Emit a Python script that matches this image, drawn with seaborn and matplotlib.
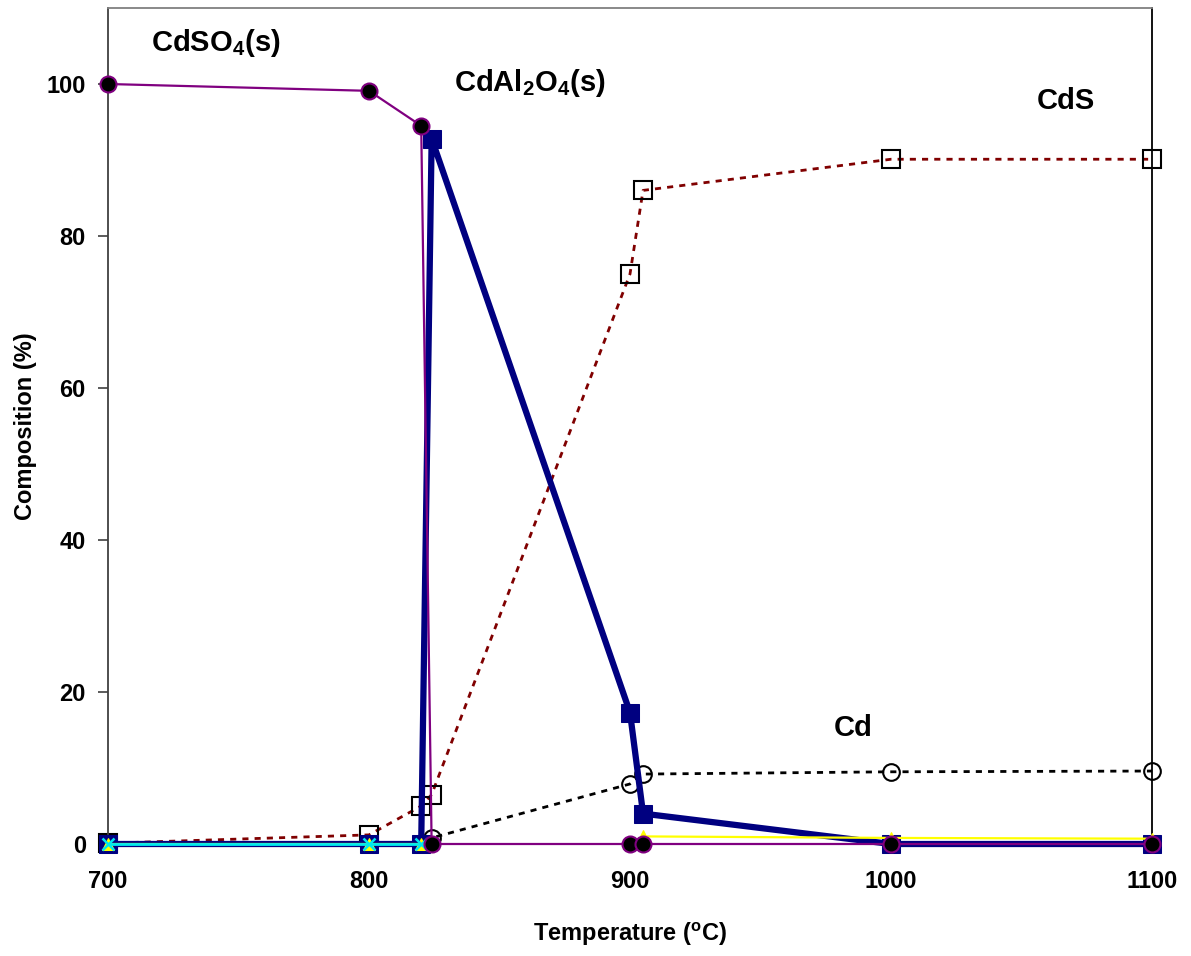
import numpy as np
import pandas as pd
import matplotlib
matplotlib.use("Agg")
import matplotlib.pyplot as plt
import seaborn as sns

# Equilibrium composition of cadmium species vs temperature
temps = [700, 800, 820, 824, 900, 905, 1000, 1100]
cdso4 = [100, 99.1, 94.5, 0, 0, 0, 0, 0]
cdal2o4 = [0, 0, 0, 92.8, 17.3, 4.0, 0, 0]
cds = [0.1, 1.2, 5.0, 6.5, 75.0, 86.0, 90.1, 90.1]
cd = [0, 0, 0, 0.8, 7.9, 9.2, 9.5, 9.6]
trace_a = [0, 0, 0, np.nan, np.nan, 1.0, 0.8, 0.7]
trace_b = [0, 0, 0, np.nan, np.nan, np.nan, np.nan, np.nan]

xticks = [700, 800, 900, 1000, 1100]
yticks = [0, 20, 40, 60, 80, 100]

sns.set_theme(style="white")
plt.rcParams["font.family"] = ["Liberation Sans", "DejaVu Sans"]
plt.rcParams["font.weight"] = "bold"
plt.rcParams["text.color"] = "black"
plt.rcParams["axes.labelcolor"] = "black"
plt.rcParams["xtick.color"] = "black"
plt.rcParams["ytick.color"] = "black"
plt.rcParams["mathtext.fontset"] = "custom"
plt.rcParams["mathtext.rm"] = "Liberation Sans:bold"
plt.rcParams["mathtext.it"] = "Liberation Sans:bold"
plt.rcParams["mathtext.bf"] = "Liberation Sans:bold"

fig = plt.figure(figsize=(11.91, 9.56), dpi=100)
W, H = 1191, 956
ax = fig.add_axes([108 / W, 1 - 844 / H, (1152 - 108) / W, (844 - 8) / H])


def draw(values, **kw):
    """Draw one series, breaking the line where values are missing."""
    df = pd.DataFrame({"T": temps, "pct": values})
    ok = df["pct"].notna()
    run = (~ok).cumsum()
    for _, seg in df[ok].groupby(run[ok]):
        sns.lineplot(data=seg, x="T", y="pct", ax=ax, errorbar=None,
                     sort=False, clip_on=False, **kw)


draw(cds, color="#800000", lw=2.0, linestyle=(0, (2.2, 2.2)),
     marker="s", markersize=12.5, markerfacecolor="none",
     markeredgecolor="black", markeredgewidth=1.5, zorder=2)
draw(cd, color="black", lw=2.0, linestyle=(0, (2.2, 2.2)),
     marker="o", markersize=12, markerfacecolor="none",
     markeredgecolor="black", markeredgewidth=1.5, zorder=2.1)
draw(cdal2o4, color="#000080", lw=4.5, marker="s", markersize=12.5,
     markerfacecolor="#000080", markeredgecolor="#000080", zorder=3)
draw(trace_a, color="#ffff00", lw=1.6, marker="^", markersize=8,
     markerfacecolor="#ffff00", markeredgecolor="#ffff00", zorder=4)
draw(trace_b, color="#00e8f0", lw=2.0, marker="x", markersize=9,
     markeredgecolor="#00e8f0", markeredgewidth=1.8, zorder=5)
draw(cdso4, color="#800080", lw=1.6, marker="o", markersize=11.5,
     markerfacecolor="black", markeredgecolor="#800080",
     markeredgewidth=1.5, zorder=6)

ax.set_xlim(700, 1100)
ax.set_ylim(0, 110)
ax.set_xticks(xticks)
ax.set_xticklabels([str(t) for t in xticks])
ax.set_yticks(yticks)
ax.set_yticklabels([str(t) for t in yticks])
ax.tick_params(axis="x", length=0, pad=19, labelsize=17, labelcolor="black")
ax.tick_params(axis="y", direction="out", length=7, width=1.2,
               color="#404040", pad=9, labelsize=17, left=True,
               labelcolor="black")
for lab in ax.get_xticklabels() + ax.get_yticklabels():
    lab.set_fontweight("bold")

for name, sp in ax.spines.items():
    sp.set_linewidth(1.3)
    sp.set_color("#404040")
ax.spines["top"].set_color("#808080")
ax.spines["right"].set_color("black")
ax.spines["bottom"].set_visible(False)

ax.set_xlabel(r"Temperature ($^\mathrm{o}$C)", fontsize=17,
              fontweight="bold", color="black")
ax.set_ylabel("Composition (%)", fontsize=17, fontweight="bold",
              color="black")
ax.xaxis.set_label_coords(0.5, -0.092)
ax.yaxis.set_label_coords(-0.068, 0.5)

lbl = dict(fontsize=21, fontweight="bold", ha="center", va="baseline",
           color="black")
ax.text(741.4, 104.3, r"CdSO$_4$(s)", **lbl)
ax.text(861.7, 99.1, r"CdAl$_2$O$_4$(s)", **lbl)
ax.text(1067, 96.7, "CdS", **lbl)
ax.text(985.4, 14.2, "Cd", **lbl)

fig.savefig("out.png", dpi=100)
